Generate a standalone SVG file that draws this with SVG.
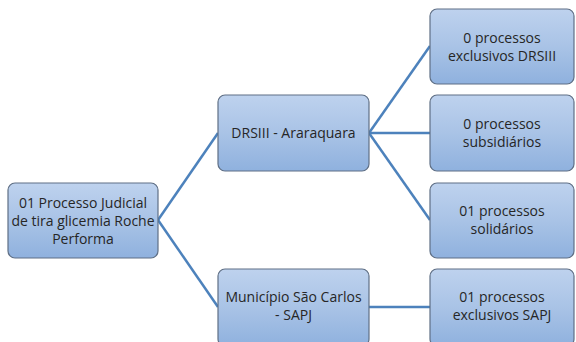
<svg xmlns="http://www.w3.org/2000/svg" width="576" height="342" viewBox="0 0 576 342">
<defs>
<linearGradient id="g" x1="0" y1="0" x2="0" y2="1">
<stop offset="0" stop-color="#bed2ee"/>
<stop offset="0.5" stop-color="#a9c3e6"/>
<stop offset="1" stop-color="#8fb1de"/>
</linearGradient>
<style>
.box{fill:url(#g);stroke:#5f6f85;stroke-width:1.2}
.t{font-family:"Open Sans","Liberation Sans",sans-serif;font-size:14px;fill:#262626;text-anchor:middle}
.c{stroke:#4d82bc;stroke-width:2.5;fill:none}
</style>
</defs>
<rect width="576" height="342" fill="#ffffff"/>
<g id="connectors">
<path class="c" d="M158 220 L218 133"/>
<path class="c" d="M158 220 L218 307"/>
<path class="c" d="M369 133 L430 46"/>
<path class="c" d="M369 133 L430 133"/>
<path class="c" d="M369 133 L430 220"/>
<path class="c" d="M369 307 L430 307"/>
</g>
<g id="root">
<rect class="box" x="8" y="183" width="150" height="75" rx="7"/>
<text class="t" x="83" y="208">01 Processo Judicial</text>
<text class="t" x="83" y="226">de tira glicemia Roche</text>
<text class="t" x="83" y="244">Performa</text>
</g>
<g id="drsiii">
<rect class="box" x="218" y="95" width="151" height="76" rx="7"/>
<text class="t" x="293.5" y="138">DRSIII - Araraquara</text>
</g>
<g id="municipio">
<rect class="box" x="218" y="269" width="151" height="77" rx="7"/>
<text class="t" x="293.5" y="302">Município São Carlos</text>
<text class="t" x="293.5" y="320">- SAPJ</text>
</g>
<g id="excl-drsiii">
<rect class="box" x="430" y="9" width="144" height="75" rx="7"/>
<text class="t" x="502" y="43">0 processos</text>
<text class="t" x="502" y="61">exclusivos DRSIII</text>
</g>
<g id="subsidiarios">
<rect class="box" x="430" y="95" width="144" height="76" rx="7"/>
<text class="t" x="502" y="129">0 processos</text>
<text class="t" x="502" y="147">subsidiários</text>
</g>
<g id="solidarios">
<rect class="box" x="430" y="183" width="144" height="75" rx="7"/>
<text class="t" x="502" y="216">01 processos</text>
<text class="t" x="502" y="234">solidários</text>
</g>
<g id="excl-sapj">
<rect class="box" x="430" y="269" width="144" height="77" rx="7"/>
<text class="t" x="502" y="302">01 processos</text>
<text class="t" x="502" y="320">exclusivos SAPJ</text>
</g>
</svg>
